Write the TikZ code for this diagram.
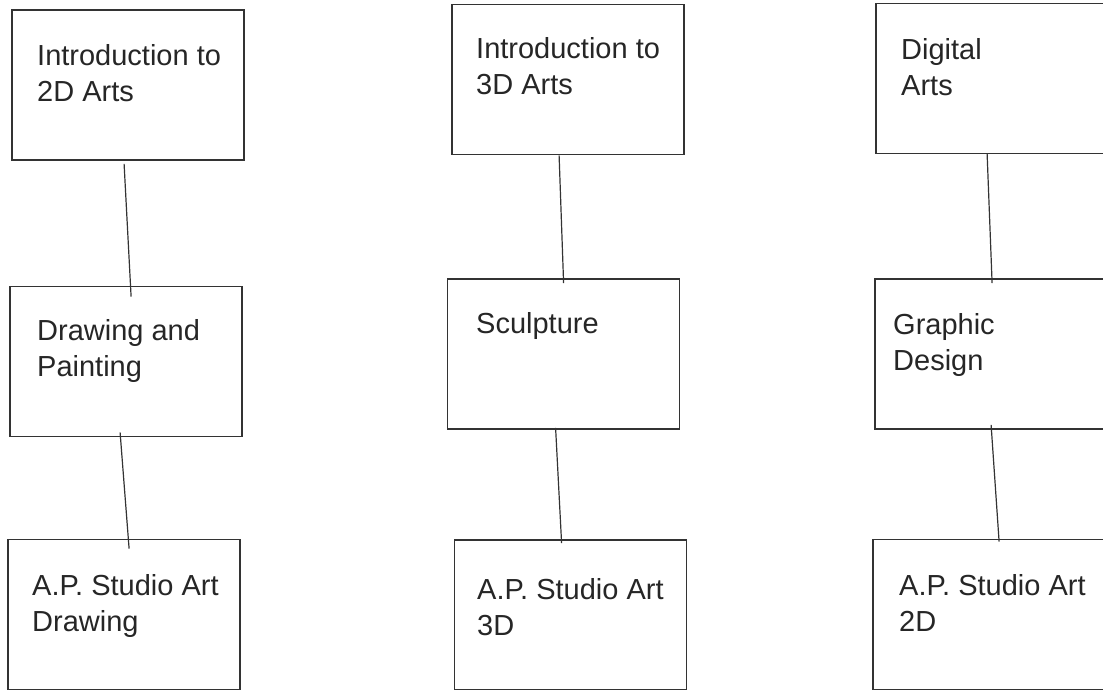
\documentclass[tikz,border=0pt]{standalone}
\usepackage{fontspec}
\setmainfont{Liberation Sans}
\usetikzlibrary{positioning}

\begin{document}
\begin{tikzpicture}[x=1pt,y=-1pt,
    course/.style={draw=black!80,line width=1.8pt,minimum width=232pt,minimum height=150pt,inner sep=0pt},
    coursename/.style={anchor=base west,align=left,inner sep=0pt,font=\fontsize{29}{36}\selectfont,text=black!85},
    link/.style={draw=black!80,line width=1.2pt}]
        \useasboundingbox (0,0) rectangle (1103,690);
        % 2D column
        \node[course] (I2) at (128,85) {};
        \node[course] (DP) at (126,361.5) {};
        \node[course] (AD) at (124,614.5) {};
        \node[coursename] (I2t) at (37,102) {Introduction to\\2D Arts};
        \node[coursename] (DPt) at (37,376) {Drawing and\\Painting};
        \node[coursename] (ADt) at (32,631) {A.P. Studio Art\\Drawing};
        % 3D column
        \node[course] (I3) at (568,79.5) {};
        \node[course] (SC) at (563.5,354) {};
        \node[course] (A3) at (570.5,615) {};
        \node[coursename] (I3t) at (476,95) {Introduction to\\3D Arts};
        \node[coursename] (SCt) at (476,333) {Sculpture};
        \node[coursename] (A3t) at (477,635) {A.P. Studio Art\\3D};
        % digital column
        \node[course] (DA) at (992,78.5) {};
        \node[course] (GD) at (991,354) {};
        \node[course] (A2) at (989,614.5) {};
        \node[coursename] (DAt) at (901,96) {Digital\\Arts};
        \node[coursename] (GDt) at (893,370) {Graphic\\Design};
        \node[coursename] (A2t) at (899,631) {A.P. Studio Art\\2D};
        % links
        \draw [link] ([xshift=113pt,yshift=-3pt]I2.south west) -- ([xshift=122pt,yshift=-11pt]DP.north west);
        \draw [link] ([xshift=111pt,yshift=5pt]DP.south west) -- ([xshift=122pt,yshift=-10pt]AD.north west);
        \draw [link] ([xshift=108pt]I3.south west) -- ([xshift=117pt,yshift=-5pt]SC.north west);
        \draw [link] ([xshift=109pt,yshift=2pt]SC.south west) -- ([xshift=108pt,yshift=-4pt]A3.north west);
        \draw [link] ([xshift=112pt,yshift=1pt]DA.south west) -- ([xshift=118pt,yshift=-5pt]GD.north west);
        \draw [link] ([xshift=117pt,yshift=5pt]GD.south west) -- ([xshift=127pt,yshift=-3pt]A2.north west);
\end{tikzpicture}
\end{document}
